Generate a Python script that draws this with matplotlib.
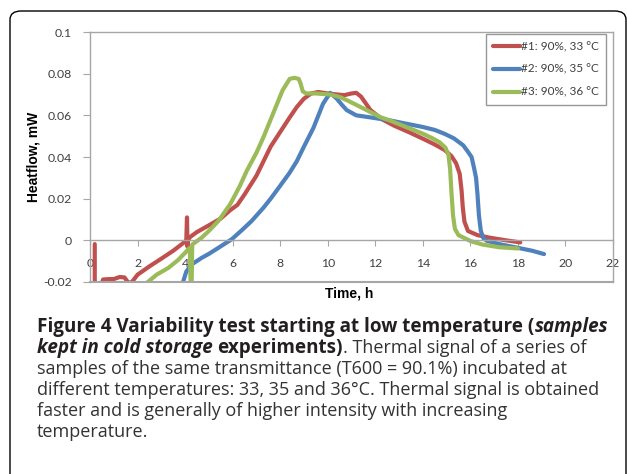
# heatflow variability test, cold storage samples

import numpy as np
import matplotlib
matplotlib.use('Agg')
import matplotlib.pyplot as plt
from matplotlib.patches import FancyBboxPatch

# ---- data ----
t1  = [0.20, 0.20, 0.21, 0.30, 0.50, 0.55, 0.80, 1.00, 1.25, 1.45, 1.60, 1.75, 2.00, 2.50, 3.00, 3.50, 3.90,
       4.05, 4.08, 4.10, 4.13, 4.20, 4.50, 5.00, 5.50, 5.90, 6.20, 6.50, 7.00, 7.30, 7.60, 8.00, 8.40, 8.70,
       9.00, 9.30, 9.60, 10.00, 10.40, 10.70, 11.00, 11.20, 11.40, 11.80, 12.30, 12.80, 13.40, 14.00, 14.50,
       14.90, 15.20, 15.40, 15.55, 15.63, 15.68, 15.75, 15.90, 16.30, 16.80, 17.50, 18.10]
hf1 = [-0.0018, -0.025, -0.0205, -0.0205, -0.0205, -0.0188, -0.0186, -0.0186, -0.0176, -0.0178, -0.0202,
       -0.0202, -0.0165, -0.0125, -0.0088, -0.0050, -0.0015, 0.0000, 0.0110, -0.0030, 0.0000, 0.0015, 0.0040,
       0.0072, 0.0105, 0.0145, 0.0170, 0.0220, 0.0310, 0.0380, 0.0450, 0.0520, 0.0590, 0.0640, 0.0680, 0.0705,
       0.0712, 0.0705, 0.0700, 0.0697, 0.0705, 0.0708, 0.0690, 0.0625, 0.0580, 0.0550, 0.0520, 0.0488, 0.0460,
       0.0435, 0.0405, 0.0370, 0.0320, 0.0240, 0.0160, 0.0090, 0.0045, 0.0025, 0.0013, 0.0000, -0.0010]

t2  = [3.90, 4.05, 4.27, 4.70, 5.00, 5.40, 5.96, 6.40, 6.80, 7.30, 7.60, 8.00, 8.40, 8.70, 9.00, 9.40, 9.80,
       10.10, 10.38, 10.60, 10.80, 11.20, 11.80, 12.60, 13.30, 14.00, 14.50, 14.90, 15.30, 15.70, 15.90, 16.05,
       16.15, 16.24, 16.30, 16.36, 16.44, 16.55, 16.70, 17.30, 18.00, 18.60, 19.10]
hf2 = [-0.0205, -0.0150, -0.0116, -0.0084, -0.0065, -0.0036, 0.0005, 0.0050, 0.0093, 0.0157, 0.0200, 0.0262,
       0.0325, 0.0380, 0.0450, 0.0540, 0.0655, 0.0708, 0.0680, 0.0650, 0.0625, 0.0600, 0.0590, 0.0576, 0.0560,
       0.0544, 0.0530, 0.0512, 0.0490, 0.0456, 0.0425, 0.0400, 0.0350, 0.0300, 0.0220, 0.0120, 0.0045, 0.0010,
       -0.0003, -0.0020, -0.0036, -0.0050, -0.0066]

t3  = [2.38, 2.80, 3.30, 3.70, 4.00, 4.20, 4.24, 4.27, 4.30, 4.70, 5.00, 5.40, 5.90, 6.30, 6.60, 7.00, 7.30,
       7.70, 8.10, 8.40, 8.60, 8.78, 8.86, 8.95, 9.10, 9.50, 10.10, 10.50, 10.80, 11.50, 12.20, 12.60, 13.30,
       14.00, 14.40, 14.70, 14.95, 15.08, 15.15, 15.20, 15.27, 15.35, 15.50, 16.00, 16.50, 17.20, 18.00]
hf3 = [-0.0205, -0.0165, -0.0132, -0.0095, -0.0060, -0.0035, -0.0250, -0.0250, -0.0020, 0.0013, 0.0045,
       0.0093, 0.0174, 0.0260, 0.0335, 0.0420, 0.0496, 0.0608, 0.0720, 0.0775, 0.0780, 0.0775, 0.0752, 0.0715,
       0.0705, 0.0705, 0.0700, 0.0688, 0.0673, 0.0633, 0.0592, 0.0576, 0.0544, 0.0512, 0.0490, 0.0471, 0.0445,
       0.0410, 0.0340, 0.0240, 0.0120, 0.0055, 0.0025, -0.0003, -0.0020, -0.0033, -0.0039]

labels = ['#1: 90%, 33 °C', '#2: 90%, 35 °C', '#3: 90%, 36 °C']
colors = ['#C0504D', '#4F81BD', '#9BBB59']

xticks = np.arange(0, 23, 2)
yticks = [-0.02, 0, 0.02, 0.04, 0.06, 0.08, 0.1]
ytick_labels = ['-0.02', '0', '0.02', '0.04', '0.06', '0.08', '0.1']

caption = [
    [('Figure 4 Variability test starting at low temperature (', 'bold', 'normal', False),
     ('samples', 'bold', 'italic', False)],
    [('kept in cold storage', 'bold', 'italic', False),
     ('experiments)', 'bold', 'normal', True),
     ('. Thermal signal of a series of', 'normal', 'normal', False)],
    [('samples of the same transmittance (T600 = 90.1%) incubated at', 'normal', 'normal', False)],
    [('different temperatures: 33, 35 and 36°C. Thermal signal is obtained', 'normal', 'normal', False)],
    [('faster and is generally of higher intensity with increasing', 'normal', 'normal', False)],
    [('temperature.', 'normal', 'normal', False)],
]

W, H = 627, 474
gray = '#A6A6A6'
tickc = '#404040'

#### plotting #####
plt.close('all')
fig = plt.figure(figsize=(W / 100, H / 100), dpi=100)

# outer rounded frame of the page
frame = FancyBboxPatch((10 / W, -20 / H), (626 - 10) / W, (H - 11 + 20) / H,
                       boxstyle='round,pad=0,rounding_size=0.018', transform=fig.transFigure,
                       fill=False, edgecolor='black', linewidth=1.0, clip_on=False)
fig.patches.append(frame)

ax = fig.add_axes([90 / W, 1 - 282 / H, (613 - 90) / W, (282 - 32) / H])

for t, hf, c, lab in zip([t1, t2, t3], [hf1, hf2, hf3], colors, labels):
    ax.plot(t, hf, color=c, lw=3.0, label=lab, solid_joinstyle='round', solid_capstyle='round')

ax.set_xlim(0, 22)
ax.set_ylim(-0.02, 0.1)

for s in ['left', 'right', 'top', 'bottom']:
    ax.spines[s].set_color(gray)
    ax.spines[s].set_linewidth(1.0)
ax.spines['bottom'].set_position(('data', 0))
ax.axhline(-0.02, color=gray, lw=1.5, clip_on=False, zorder=5)

ax.set_xticks(xticks)
ax.set_xticklabels([str(x) for x in xticks])
ax.set_yticks(yticks)
ax.set_yticklabels(ytick_labels)
ax.tick_params(axis='x', direction='out', length=4, color=gray, pad=9, labelsize=8.8, labelcolor=tickc)
ax.tick_params(axis='y', direction='out', length=5, color=gray, pad=8, labelsize=8.8, labelcolor=tickc)
for lb in ax.get_xticklabels() + ax.get_yticklabels():
    lb.set_fontfamily('Lato')

fig.text(349 / W, 1 - 293 / H, 'Time, h', ha='center', va='center', fontsize=10,
         fontweight='bold', family='Liberation Sans')
fig.text(33 / W, 1 - 157 / H, 'Heatflow, mW', ha='center', va='center', rotation=90, fontsize=10,
         fontweight='bold', family='Liberation Sans')

leg = ax.legend(loc='upper right', bbox_to_anchor=(606 / W, 1 - 34 / H), bbox_transform=fig.transFigure,
                frameon=True, fancybox=False, handlelength=2.3, handletextpad=0.1, labelspacing=1.0,
                borderpad=0.6, borderaxespad=0, prop={'family': 'Lato', 'size': 8.5})
leg.get_frame().set_edgecolor('#7F7F7F')
leg.get_frame().set_linewidth(1.0)
for txt in leg.get_texts():
    txt.set_color(tickc)

# caption, written run by run
renderer = fig.canvas.get_renderer()
cap_font = 'Open Sans'
cap_size = {'bold': 13.6, 'normal': 13.0}


def space_width(wt):
    p1 = fig.text(0, 0, 'n n', fontsize=cap_size[wt], family=cap_font, fontweight=wt)
    p2 = fig.text(0, 0, 'nn', fontsize=cap_size[wt], family=cap_font, fontweight=wt)
    w = p1.get_window_extent(renderer).width - p2.get_window_extent(renderer).width
    p1.remove()
    p2.remove()
    return w


y0 = 327
for i, line in enumerate(caption):
    x = 37
    y = y0 + 21 * i
    for s, wt, st, gap in line:
        if gap:
            x += space_width(wt)
        tx = fig.text(x / W, 1 - y / H, s, fontsize=cap_size[wt], family=cap_font, fontweight=wt,
                      fontstyle=st, va='center', ha='left', color='#231F20' if wt == 'bold' else '#333333')
        x += tx.get_window_extent(renderer).width

plt.savefig('out.png', dpi=100)
